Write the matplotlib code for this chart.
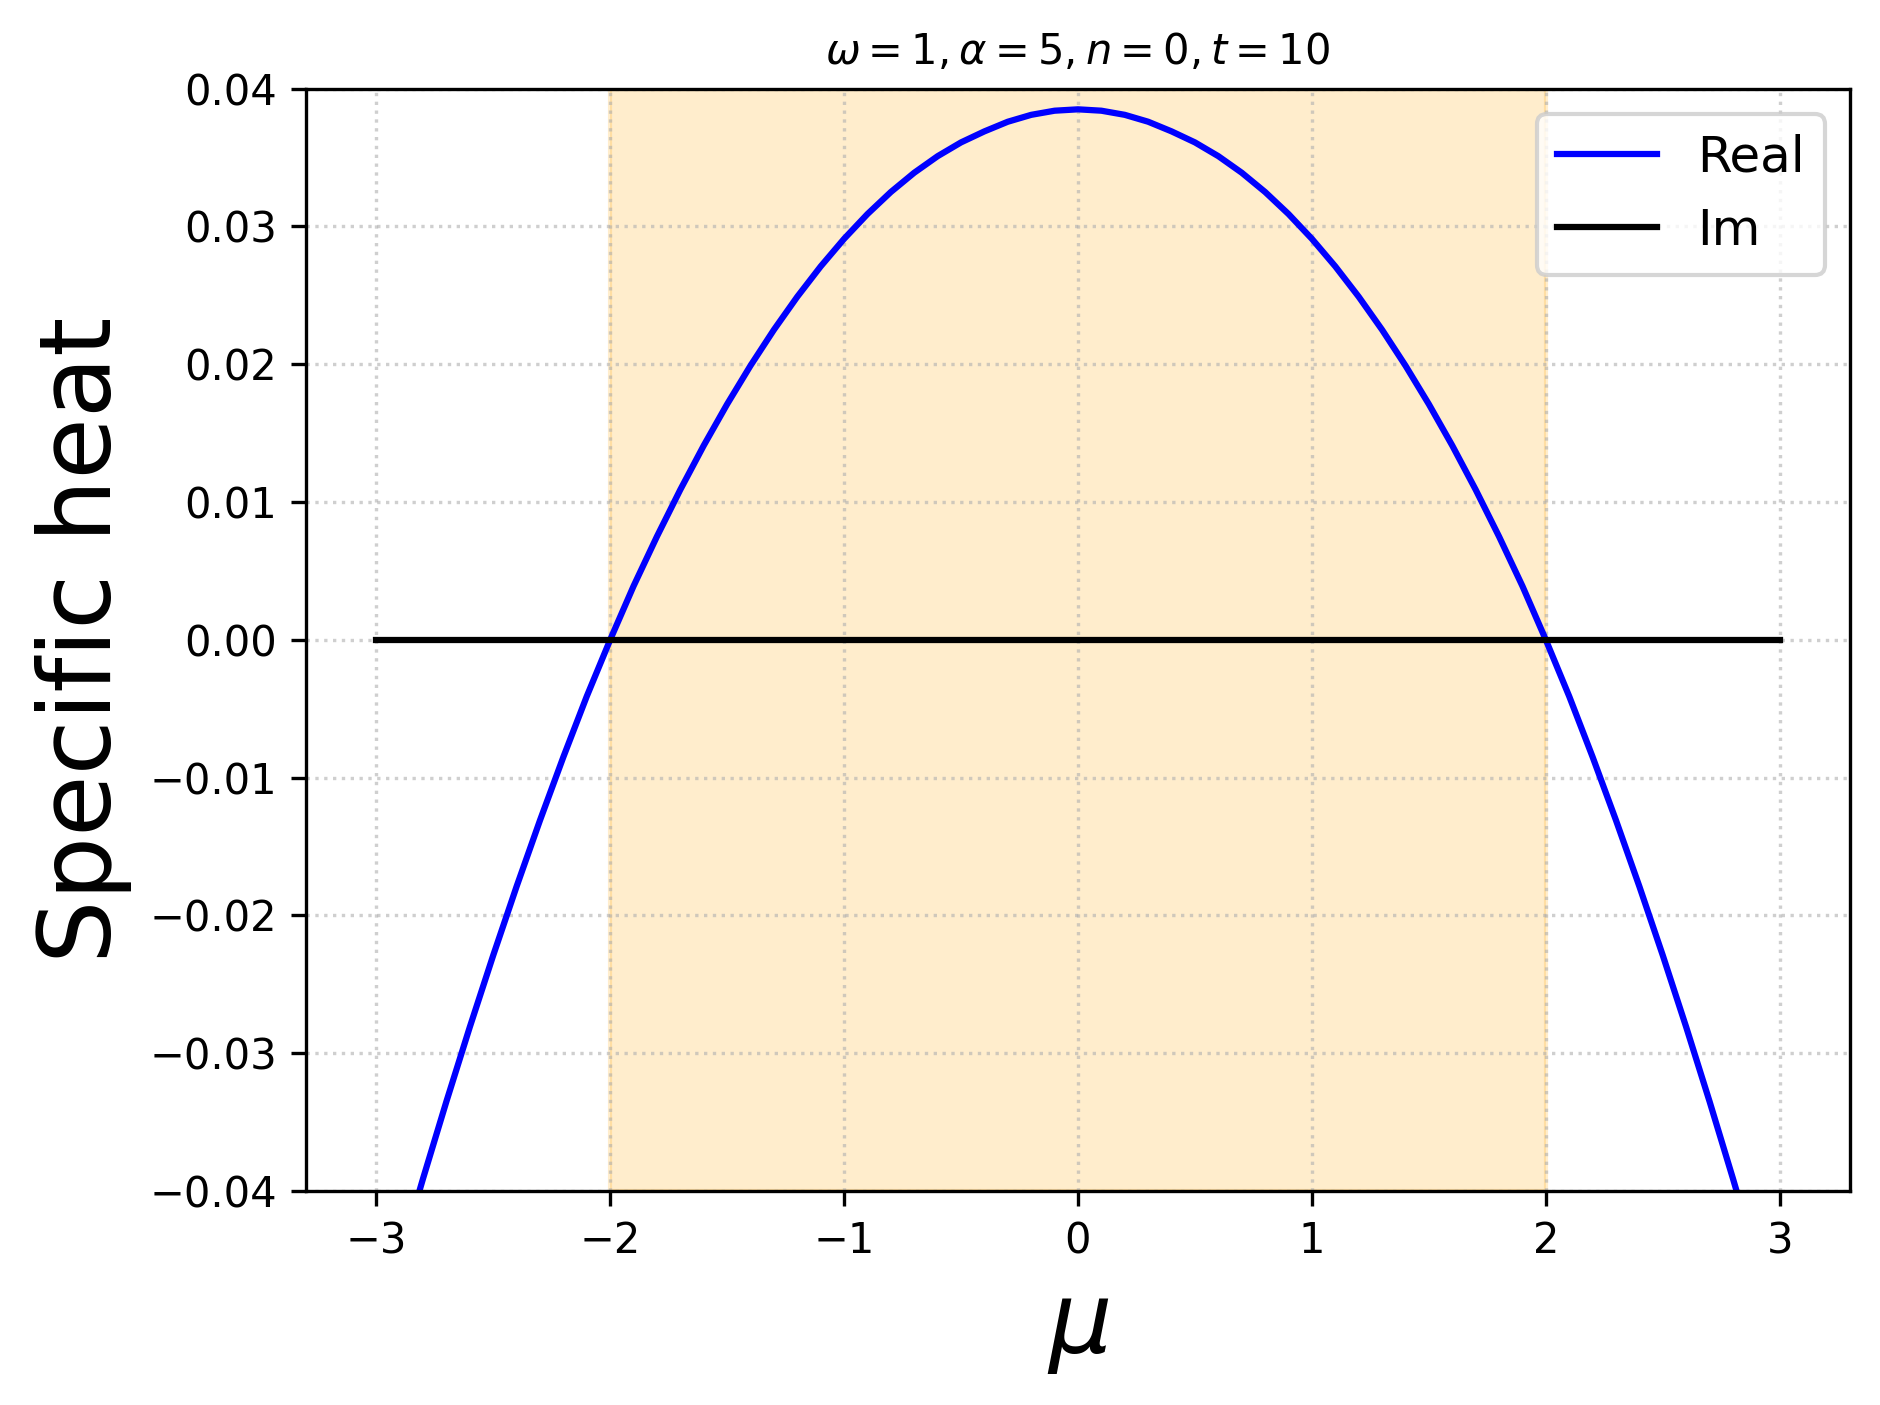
import matplotlib
matplotlib.use("Agg")
import matplotlib.pyplot as plt

# chemical potential grid and specific heat
mu = [-3.0, -2.9, -2.8, -2.7, -2.6, -2.5, -2.4, -2.3, -2.2, -2.1,
      -2.0, -1.9, -1.8, -1.7, -1.6, -1.5, -1.4, -1.3, -1.2, -1.1,
      -1.0, -0.9, -0.8, -0.7, -0.6, -0.5, -0.4, -0.3, -0.2, -0.1,
      0.0, 0.1, 0.2, 0.3, 0.4, 0.5, 0.6, 0.7, 0.8, 0.9,
      1.0, 1.1, 1.2, 1.3, 1.4, 1.5, 1.6, 1.7, 1.8, 1.9,
      2.0, 2.1, 2.2, 2.3, 2.4, 2.5, 2.6, 2.7, 2.8, 2.9, 3.0]
c_real = [-0.0509, -0.0449, -0.0391, -0.0335, -0.0281, -0.0229, -0.0179, -0.0131, -0.0085, -0.0041,
          0.0000, 0.0039, 0.0075, 0.0109, 0.0141, 0.0171, 0.0199, 0.0225, 0.0249, 0.0271,
          0.0291, 0.0309, 0.0325, 0.0339, 0.0351, 0.0361, 0.0369, 0.0376, 0.0381, 0.0384,
          0.0385, 0.0384, 0.0381, 0.0376, 0.0369, 0.0361, 0.0351, 0.0339, 0.0325, 0.0309,
          0.0291, 0.0271, 0.0249, 0.0225, 0.0199, 0.0171, 0.0141, 0.0109, 0.0075, 0.0039,
          0.0000, -0.0041, -0.0085, -0.0131, -0.0179, -0.0229, -0.0281, -0.0335, -0.0391, -0.0449, -0.0509]
c_imag = [0.0] * len(mu)

band = (-2, 2)

fig = plt.figure(figsize=(1880 / 300, 1405 / 300), dpi=300)
ax = fig.add_axes([0.1628, 0.1523, 0.9840 - 0.1628, 0.9369 - 0.1523])

ax.axvspan(band[0], band[1], color='orange', alpha=0.2)
ax.plot(mu, c_real, color='blue', lw=1.5, label='Real')
ax.plot(mu, c_imag, color='black', lw=1.5, label='Im')

ax.set_ylim(-0.04, 0.04)
ax.grid(True, linestyle=':', alpha=0.6)
ax.tick_params(labelsize=10)
ax.set_xlabel(r'$\mu$', fontsize=24)
ax.set_ylabel('Specific heat', fontsize=24)
ax.set_title(r'$\omega=1, \alpha=5, n=0, t=10$', fontsize=10)
ax.legend(loc='upper right', fontsize=12)

fig.savefig('out.png', dpi=300)
